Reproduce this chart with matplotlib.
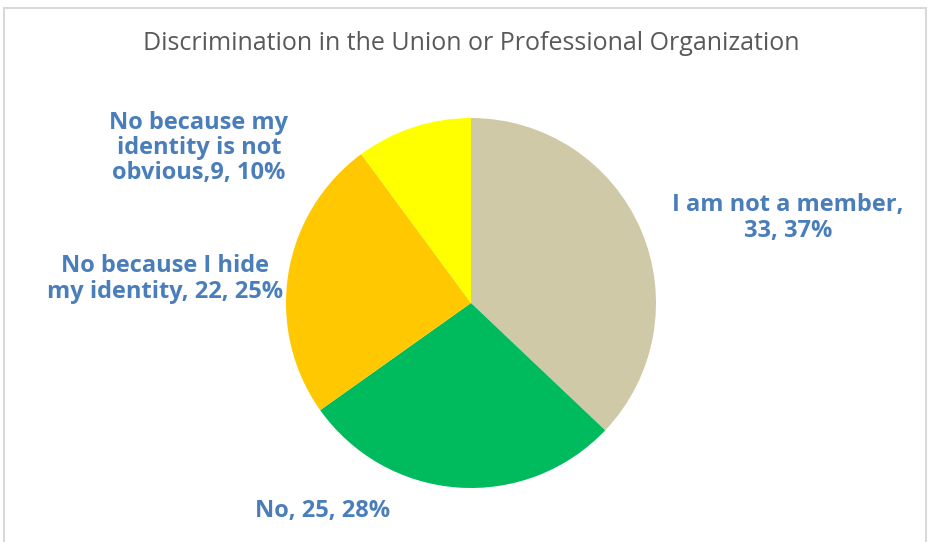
import matplotlib
matplotlib.use("Agg")
import matplotlib.pyplot as plt
from matplotlib.patches import Rectangle

categories = ["I am not a member", "No", "No because I hide my identity", "No because my identity is not obvious"]
values = [33, 25, 22, 9]
colors = ["#D0C9A8", "#00BB5E", "#FFC800", "#FFFF00"]
label_texts = ["I am not a member,\n33, 37%", "No, 25, 28%",
               "No because I hide\nmy identity, 22, 25%",
               "No because my\nidentity is not\nobvious,9, 10%"]
title = "Discrimination in the Union or Professional Organization"

W, H = 936, 542
fig = plt.figure(figsize=(W / 100, H / 100), dpi=100)
ax = fig.add_axes([0, 0, 1, 1])
ax.set_xlim(0, W)
ax.set_ylim(0, H)
ax.set_aspect("equal")
ax.axis("off")

ax.add_patch(Rectangle((4, -10), 922, H - 4 + 10 - 4, fill=False, edgecolor="#D9D9D9", linewidth=1.5))

ax.pie(values, colors=colors, startangle=90, counterclock=False,
       center=(471, H - 303), radius=185, frame=True,
       wedgeprops=dict(linewidth=0))
ax.set_xlim(0, W)
ax.set_ylim(0, H)
ax.axis("off")

label_pos = [(788, H - 218), (323, H - 511), (165, H - 279), (199, H - 148)]
for t, (x, y) in zip(label_texts, label_pos):
    ax.text(x, y, t, ha="center", va="center", fontsize=17, fontweight="bold",
            color="#4A7EBB", family="Open Sans", linespacing=1.07)

ax.text(471, H - 44, title, ha="center", va="center", fontsize=18,
        color="#595959", family="Open Sans")

fig.savefig("out.png", dpi=100)
